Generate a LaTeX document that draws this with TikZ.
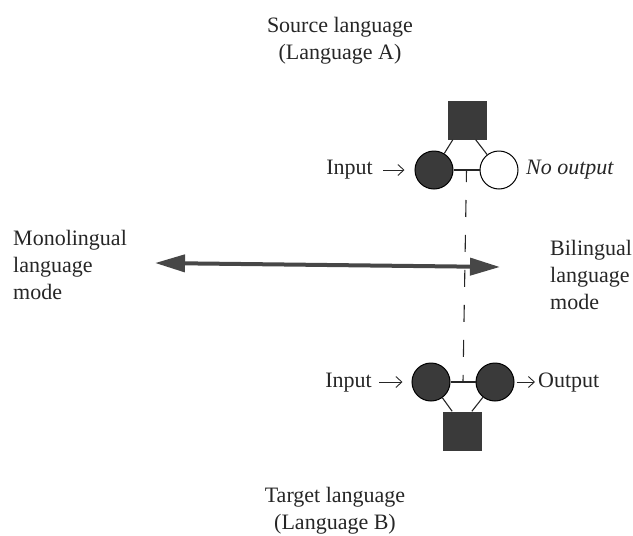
\documentclass[tikz,border=0pt]{standalone}
\usepackage{fontspec}
\setmainfont{Liberation Serif}
\usetikzlibrary{arrows.meta,calc}
\definecolor{ink}{HTML}{3A3A3A}
\definecolor{arrowgray}{HTML}{474747}
\begin{document}
\begin{tikzpicture}[x=1pt,y=-1pt,
  lbl/.style={inner sep=0pt, text=black!85, font=\fontsize{22}{27}\selectfont},
  blk/.style={lbl, align=left},
  cblk/.style={lbl, align=center},
  dot/.style={circle, draw=black, fill=ink, line width=1pt, minimum size=38pt, inner sep=0pt},
  hollow/.style={circle, draw=black, fill=white, line width=1pt, minimum size=38pt, inner sep=0pt},
  sq/.style={rectangle, fill=ink, minimum size=39pt, inner sep=0pt},
  link/.style={line width=1.1pt, black!85},
  inarr/.style={line width=0.9pt, black!85, -{Straight Barb[length=6pt,width=11pt]}},
  big/.style={line width=4pt, arrowgray, {Triangle[length=30pt,width=17pt]}-{Triangle[length=30pt,width=17pt]}},
  dashes/.style={line width=1.1pt, black!85, dash pattern=on 17pt off 18pt, dash phase=5pt},
]
\useasboundingbox (0,0) rectangle (633,536);

% titles
\node[cblk] (src) at (340,41) {Source language\\(Language A)};
\node[cblk] (tgt) at (335,511) {Target language\\(Language B)};
\node[blk, anchor=west] (mono) at (13,265) {Monolingual\\language\\mode};
\node[blk, anchor=west] (bil) at (550,275) {Bilingual\\language\\mode};

% source language network
\node[sq] (sqA) at (467,120) {};
\node[dot] (cA1) at (434,170) {};
\node[hollow] (cA2) at (499,170) {};
\draw[link] (cA1) -- (cA2);
\draw[link] ($(sqA.south west)!0.14!(sqA.south east)$) -- (cA1);
\draw[link] ($(sqA.south west)!0.72!(sqA.south east)$) -- (cA2);
\node[lbl, anchor=east] (inA) at (373,170) {Input};
\draw[inarr, shorten <=10pt, shorten >=10pt] (inA.east |- cA1) -- (cA1);
\node[lbl, anchor=west, font=\fontsize{22}{27}\selectfont\itshape] (noout) at (526,170) {No output};

% target language network
\node[sq] (sqB) at (462,431) {};
\node[dot] (cB1) at (431,382) {};
\node[dot] (cB2) at (495,382) {};
\draw[link] (cB1) -- (cB2);
\draw[link] ($(sqB.north west)!0.25!(sqB.north east)$) -- (cB1);
\draw[link] ($(sqB.north west)!0.75!(sqB.north east)$) -- (cB2);
\node[lbl, anchor=east] (inB) at (372,383) {Input};
\draw[inarr, shorten <=7pt, shorten >=9pt] (inB.east |- cB1) -- (cB1);
\node[lbl, anchor=west] (out) at (538,383) {Output};
\draw[inarr, shorten <=2pt, shorten >=3pt] (cB2) -- (out.west |- cB2);

% dashed link between the languages
\coordinate (mA) at ($(cA1)!0.5!(cA2)$);
\coordinate (mB) at ($(cB1)!0.5!(cB2)$);
\draw[dashes] (mA) -- (mB);

% language mode continuum
\coordinate (monoEnd) at (155,263);
\coordinate (bilEnd) at (500,267);
\draw[big] (monoEnd) -- (bilEnd);
\end{tikzpicture}
\end{document}
